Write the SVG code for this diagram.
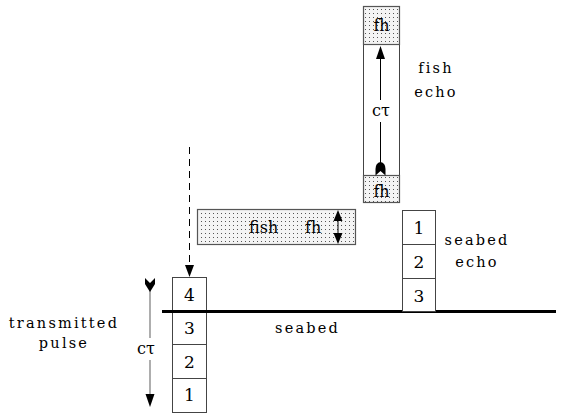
<svg xmlns="http://www.w3.org/2000/svg" width="564" height="415" viewBox="0 0 564 415">
  <defs>
    <pattern id="dots" width="4" height="4" patternUnits="userSpaceOnUse">
      <rect width="4" height="4" fill="#f4f4f4"/>
      <rect x="1" y="1" width="1" height="1" fill="#555"/>
    </pattern>
    <marker id="bighead" viewBox="0 0 12 10" refX="12" refY="5" markerWidth="13" markerHeight="10" markerUnits="userSpaceOnUse" orient="auto">
      <path d="M0,0.5 L12,5 L0,9.5 Z" fill="#000"/>
    </marker>
  </defs>
  <style>
    text { font-family: "DejaVu Serif", "Liberation Serif", serif; font-size: 16px; fill: #000; }
    .lbl { letter-spacing: 2.2px; font-size: 14.5px; }
    .num { text-anchor: middle; font-size: 17px; }
    .cell { fill: #fff; stroke: #444; stroke-width: 1; }
    .shade { fill: url(#dots); stroke: #555; stroke-width: 1.2; }
    .line { stroke: #000; stroke-width: 1; fill: none; }
  </style>

  <!-- seabed -->
  <g id="seabed">
    <line x1="162" y1="311.5" x2="556" y2="311.5" stroke="#000" stroke-width="3"/>
    <text class="lbl" x="275" y="333">seabed</text>
  </g>

  <!-- transmitted pulse cells -->
  <g id="pulse">
    <rect class="cell" x="172.5" y="277.5" width="34" height="34"/>
    <rect class="cell" x="172.5" y="311.5" width="34" height="33"/>
    <rect class="cell" x="172.5" y="344.5" width="34" height="34"/>
    <rect class="cell" x="172.5" y="378.5" width="34" height="34"/>
    <line x1="162" y1="311.5" x2="207" y2="311.5" stroke="#000" stroke-width="3"/>
    <text class="num" x="189.5" y="301">4</text>
    <text class="num" x="189.5" y="334">3</text>
    <text class="num" x="189.5" y="368">2</text>
    <text class="num" x="189.5" y="401">1</text>
  </g>

  <g id="pulse-label">
    <text class="lbl" x="64" y="328" text-anchor="middle">transmitted</text>
    <text class="lbl" x="64" y="348" text-anchor="middle">pulse</text>
  </g>

  <!-- fish target -->
  <g id="fish">
    <rect class="shade" x="197.5" y="209.5" width="158" height="35"/>
    <text x="249" y="233">fish</text>
    <text x="305" y="233">fh</text>
  </g>

  <!-- fish echo column -->
  <g id="fish-echo">
    <rect class="cell" x="363.5" y="6.5" width="36" height="196"/>
    <rect class="shade" x="363.5" y="6.5" width="36" height="38"/>
    <rect class="shade" x="363.5" y="175.5" width="36" height="27"/>
    <text x="381.5" y="31" text-anchor="middle">fh</text>
    <text x="381.5" y="197" text-anchor="middle">fh</text>
    <text x="381" y="116" text-anchor="middle">cτ</text>
    <text class="lbl" x="436" y="73" text-anchor="middle">fish</text>
    <text class="lbl" x="436" y="97" text-anchor="middle">echo</text>
  </g>

  <!-- seabed echo cells -->
  <g id="seabed-echo">
    <rect class="cell" x="402.5" y="210.5" width="33" height="34"/>
    <rect class="cell" x="402.5" y="244.5" width="33" height="34"/>
    <rect class="cell" x="402.5" y="278.5" width="33" height="33"/>
    <text class="num" x="419" y="234">1</text>
    <text class="num" x="419" y="268">2</text>
    <text class="num" x="419" y="302">3</text>
    <text class="lbl" x="477" y="245" text-anchor="middle">seabed</text>
    <text class="lbl" x="477" y="267" text-anchor="middle">echo</text>
  </g>

  <!-- connectors -->
  <g id="connectors">
    <!-- incident ray -->
    <line class="line" x1="189.5" y1="147" x2="189.5" y2="277" stroke-dasharray="7,5" marker-end="url(#bighead)"/>
    <!-- fish height -->
    <line class="line" x1="338" y1="221" x2="338" y2="234"/>
    <path d="M338,210 L333.5,221 L342.5,221 Z" fill="#000"/>
    <path d="M338,244 L333.5,233 L342.5,233 Z" fill="#000"/>
    <!-- echo travel c tau -->
    <line class="line" x1="380.5" y1="165" x2="380.5" y2="122"/>
    <line class="line" x1="380.5" y1="100" x2="380.5" y2="58"/>
    <path d="M380.5,46 L376,59 L385,59 Z" fill="#000"/>
    <path d="M375.5,175.5 L375.5,169 Q375.5,163 380.5,162 Q385.5,163 385.5,169 L385.5,175.5 L380.5,171 Z" fill="#000"/>
    <!-- pulse length c tau -->
    <line x1="150" y1="285" x2="150" y2="338" stroke="#777" stroke-width="1.2"/>
    <line x1="150" y1="360" x2="150" y2="395" stroke="#777" stroke-width="1.2"/>
    <path d="M145,278 L150,283 L155,278 L155,284 L150,292 L145,284 Z" fill="#000"/>
    <path d="M150,407 L145.5,394 L154.5,394 Z" fill="#000"/>
    <text x="146" y="354" text-anchor="middle">cτ</text>
  </g>
</svg>
